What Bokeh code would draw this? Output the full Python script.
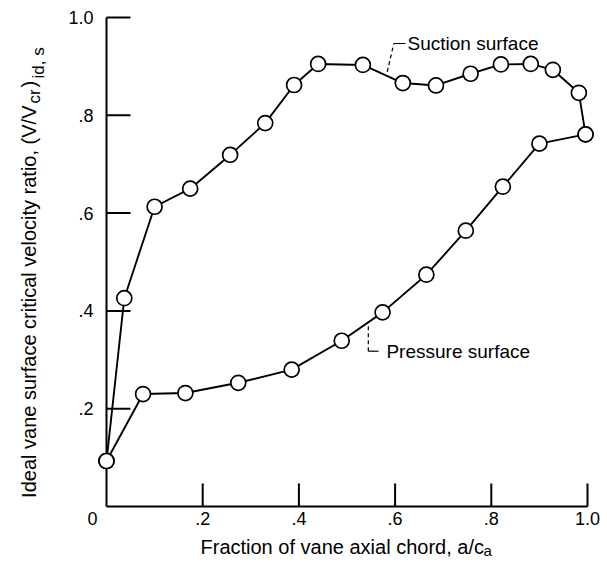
import math
from bokeh.plotting import figure
from bokeh.models import Range1d, Label
from bokeh.core.properties import value
from bokeh.embed import file_html
from bokeh.resources import INLINE

# ---- data ----
SUCTION_X = [0.0, 0.037, 0.100, 0.174, 0.257, 0.330, 0.390, 0.440, 0.533, 0.616,
             0.685, 0.757, 0.820, 0.882, 0.928, 0.982, 0.996]
SUCTION_Y = [0.093, 0.426, 0.613, 0.650, 0.719, 0.784, 0.862, 0.905, 0.903, 0.866,
             0.861, 0.885, 0.904, 0.905, 0.893, 0.846, 0.761]
PRESSURE_X = [0.0, 0.076, 0.164, 0.274, 0.385, 0.489, 0.574, 0.665, 0.747, 0.824,
              0.900, 0.996]
PRESSURE_Y = [0.093, 0.230, 0.232, 0.253, 0.280, 0.339, 0.397, 0.474, 0.564, 0.654,
              0.742, 0.761]

X_TICKS = [0.2, 0.4, 0.6, 0.8, 1.0]
X_TICK_LABELS = [".2", ".4", ".6", ".8", "1.0"]
Y_TICKS = [0.2, 0.4, 0.6, 0.8, 1.0]
Y_TICK_LABELS = [".2", ".4", ".6", ".8", "1.0"]
ORIGIN_LABEL = "0"

X_TITLE = "Fraction of vane axial chord, a/c"
X_TITLE_SUB = "a"
Y_TITLE = "Ideal vane surface critical velocity ratio, (V/V"
Y_TITLE_SUB1 = "cr"
Y_TITLE_PAREN = ")"
Y_TITLE_SUB2 = "id, s"
SUCTION_NAME = "Suction surface"
PRESSURE_NAME = "Pressure surface"

FONT = "Liberation Sans"

# canvas 600 x 560; x = 0 at px 106, 481 px per unit; y = 0 at px 506, 489 px per unit
W, H = 600, 560
XS, YS = 481.0, 489.0
X0 = -106 / XS
Y1 = 1 + 17 / YS
p = figure(width=W, height=H,
           x_range=Range1d(X0, X0 + W / XS), y_range=Range1d(Y1 - H / YS, Y1),
           output_backend="svg", toolbar_location=None, min_border=0)
p.outline_line_color = None
p.grid.visible = False
p.axis.visible = False
p.background_fill_color = "white"
p.border_fill_color = "white"

# axes drawn from the tick arrays
p.line([0, X_TICKS[-1]], [0, 0], line_color="black", line_width=2)
p.line([0, 0], [0, Y_TICKS[-1]], line_color="black", line_width=2)
p.segment(x0=X_TICKS, y0=[0] * len(X_TICKS), x1=X_TICKS, y1=[23 / YS] * len(X_TICKS),
          line_color="black", line_width=2)
p.segment(x0=[0] * len(Y_TICKS), y0=Y_TICKS, x1=[24 / XS] * len(Y_TICKS), y1=Y_TICKS,
          line_color="black", line_width=2)
p.text(x=X_TICKS, y=[-5 / YS] * len(X_TICKS), text=X_TICK_LABELS,
       text_font=value(FONT), text_font_size="18px", text_color="black",
       text_align="center", text_baseline="top")
p.text(x=[-13 / XS] * len(Y_TICKS), y=Y_TICKS, text=Y_TICK_LABELS,
       text_font=value(FONT), text_font_size="18px", text_color="black",
       text_align="right", text_baseline="middle")

# curves
p.line(SUCTION_X, SUCTION_Y, line_width=1.9, line_color="black")
p.line(PRESSURE_X, PRESSURE_Y, line_width=1.9, line_color="black")
p.scatter(SUCTION_X, SUCTION_Y, marker="circle", size=15, fill_color="white",
          line_color="black", line_width=1.7)
p.scatter(PRESSURE_X, PRESSURE_Y, marker="circle", size=15, fill_color="white",
          line_color="black", line_width=1.7)

# leader lines
p.line([0.5836, 0.5973], [0.8888, 0.9468], line_color="black", line_width=1.2,
       line_dash="4 3")
p.line([0.5973, 0.6216], [0.9468, 0.9468], line_color="black", line_width=1.2)
p.line([0.5443, 0.5443], [0.3687, 0.3176], line_color="black", line_width=1.2,
       line_dash="4 3")
p.line([0.5443, 0.5655], [0.3176, 0.3176], line_color="black", line_width=1.2)

def lab(x, y, text, size, align="left", baseline="middle", angle=0.0):
    p.add_layout(Label(x=x, y=y, text=text, text_font=FONT, text_font_size=size,
                       text_color="black", text_align=align,
                       text_baseline=baseline, angle=angle))

lab(0.6258, 0.9460, SUCTION_NAME, "19px")
lab(0.5820, 0.3176, PRESSURE_NAME, "19px")

# origin label
lab(-14 / XS, -5 / YS, ORIGIN_LABEL, "18px", align="center", baseline="top")

# x title
lab(94 / XS, -40 / YS, X_TITLE, "20px", baseline="alphabetic")
lab(377 / XS, -44 / YS, X_TITLE_SUB, "15px", baseline="alphabetic")

# y title (rotated); positions measured upward from y = 0 in px
ang = math.pi / 2
lab(-78 / XS, 401 / YS, Y_TITLE, "20px", align="right", baseline="alphabetic", angle=ang)
lab(-72 / XS, 403 / YS, Y_TITLE_SUB1, "17px", align="left", baseline="alphabetic", angle=ang)
lab(-78 / XS, 419 / YS, Y_TITLE_PAREN, "20px", align="left", baseline="alphabetic", angle=ang)
lab(-68 / XS, 428 / YS, Y_TITLE_SUB2, "17px", align="left", baseline="alphabetic", angle=ang)

open("out.html", "w").write(file_html(p, INLINE))
